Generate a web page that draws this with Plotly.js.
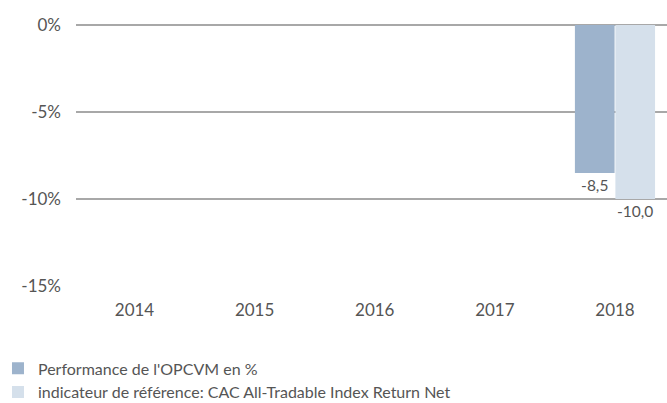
<!DOCTYPE html>
<html><head><meta charset="utf-8">
<script src="https://cdn.plot.ly/plotly-3.0.1.min.js"></script>
<style>html,body{margin:0;padding:0;background:#fff}#chart{width:667px;height:403px}</style>
</head><body><div id="chart"></div>
<script>
var years = ['2014','2015','2016','2017','2018'];
var fundName = "Performance de l'OPCVM en %";
var benchName = "indicateur de référence: CAC All-Tradable Index Return Net";
var fundValues = [null, null, null, null, -8.5];
var benchValues = [null, null, null, null, -10.0];
var yTickValues = [0, -5, -10, -15];
var yTickLabels = ['0%', '-5%', '-10%', '-15%'];

function fmt(v){ return v === null ? '' : v.toFixed(1).replace('.', ','); }

var fam = 'Lato, "Open Sans", sans-serif';
var tickFont = {family: fam, size: 17, color: '#555555'};

var traces = [
  {type:'bar', name: fundName, x: years, y: fundValues, text: fundValues.map(fmt),
   textposition:'outside', cliponaxis:false, constraintext:'none', marker:{color:'#9db3cc'},
   textfont:{family: fam, size: 15.5, color:'#555555'}, hoverinfo:'none'},
  {type:'bar', name: benchName, x: years, y: benchValues, text: benchValues.map(fmt),
   textposition:'outside', cliponaxis:false, constraintext:'none', marker:{color:'#d5e0eb'},
   textfont:{family: fam, size: 15.5, color:'#555555'}, hoverinfo:'none'}
];

var layout = {
  width: 667, height: 403,
  margin: {l: 76, r: 0, t: 25, b: 117, autoexpand: false},
  paper_bgcolor: '#fff', plot_bgcolor: '#fff',
  font: tickFont,
  barmode: 'group', bargap: 0.326, bargroupgap: 0.02,
  showlegend: true,
  legend: {xref:'paper', yref:'container', x: -0.132, y: 0.128, yanchor:'top', xanchor:'left',
           orientation:'v', font:{family: fam, size: 16, color:'#555555'}, tracegroupgap: 0, itemwidth: 30},
  xaxis: {type:'category', range:[-0.487, 4.433], showgrid:false, zeroline:false, showline:false,
          ticks:'', ticklabelstandoff: 12, tickfont: tickFont, fixedrange:true},
  yaxis: {range:[-15, 0], tickvals: yTickValues, ticktext: yTickLabels, showgrid:true,
          gridcolor:'#a8a8a8', gridwidth:1.3, zeroline:true, zerolinecolor:'#a8a8a8', zerolinewidth:1.3,
          showline:false, ticks:'', ticklabelstandoff: 14, tickfont: tickFont, fixedrange:true}
};

Plotly.newPlot('chart', traces, layout, {displayModeBar:false, staticPlot:true});
</script></body></html>
